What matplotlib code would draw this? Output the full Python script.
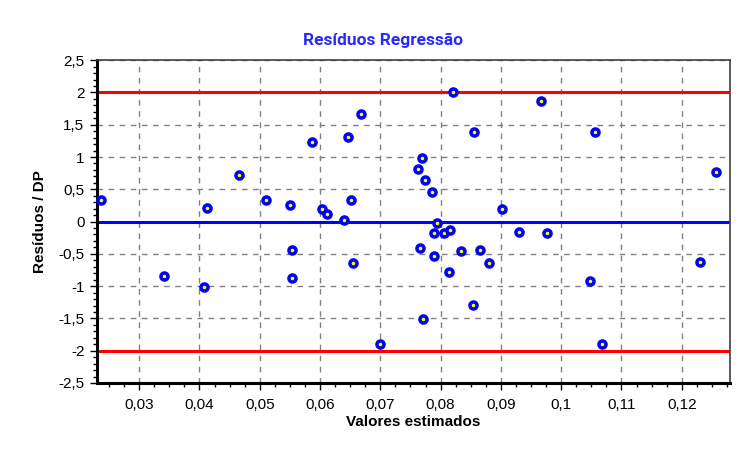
import matplotlib
matplotlib.use('Agg')
import matplotlib.pyplot as plt
from matplotlib.ticker import MultipleLocator, FuncFormatter

# data
valores = [0.0237, 0.0342, 0.0407, 0.0412, 0.0466, 0.0510, 0.0550, 0.0554, 0.0554,
           0.0586, 0.0603, 0.0612, 0.0639, 0.0646, 0.0651, 0.0654, 0.0668, 0.0700,
           0.0762, 0.0765, 0.0769, 0.0771, 0.0774, 0.0786, 0.0789, 0.0789, 0.0794,
           0.0806, 0.0814, 0.0816, 0.0821, 0.0833, 0.0853, 0.0856, 0.0865, 0.0880,
           0.0901, 0.0930, 0.0967, 0.0977, 0.1048, 0.1056, 0.1068, 0.1230, 0.1256]
residuos = [0.33, -0.85, -1.01, 0.21, 0.72, 0.33, 0.26, -0.44, -0.87,
            1.23, 0.19, 0.12, 0.02, 1.31, 0.33, -0.64, 1.67, -1.89,
            0.81, -0.41, 0.98, -1.51, 0.65, 0.46, -0.17, -0.53, -0.02,
            -0.17, -0.78, -0.13, 2.01, -0.46, -1.29, 1.39, -0.44, -0.64,
            0.19, -0.16, 1.87, -0.18, -0.92, 1.39, -1.89, -0.62, 0.77]
limites = [2, -2]

plt.rcParams['font.family'] = ['Liberation Sans', 'DejaVu Sans']

fig = plt.figure(figsize=(7.4, 4.49), dpi=100)
ax = fig.add_axes([0.131, 0.147, 0.8555, 0.719])

ax.set_xlim(0.0230, 0.1280)
ax.set_ylim(-2.5, 2.5)

ax.grid(True, which='major', color='#808080', ls=(0, (4, 4)), lw=1)
ax.set_axisbelow(True)

for lim in limites:
    ax.axhline(lim, color='#ff0000', lw=2.2, zorder=2)
ax.axhline(0, color='#0000ff', lw=2.2, zorder=2)

ax.scatter(valores, residuos, s=26, marker='o', facecolor='#ffff00',
           edgecolor='#0000ff', linewidth=2.5, zorder=3, clip_on=False)

ax.xaxis.set_major_locator(MultipleLocator(0.01))
ax.xaxis.set_minor_locator(MultipleLocator(0.0025))
ax.yaxis.set_major_locator(MultipleLocator(0.5))
ax.yaxis.set_minor_locator(MultipleLocator(0.1))

def virgula(v, pos):
    s = ('%.2f' % v).rstrip('0').rstrip('.')
    if s == '-0':
        s = '0'
    return s.replace('.', ',')

ax.xaxis.set_major_formatter(FuncFormatter(virgula))
ax.yaxis.set_major_formatter(FuncFormatter(virgula))

ax.tick_params(which='major', length=5, width=1, labelsize=11, colors='black', pad=6)
ax.tick_params(axis='y', which='major', pad=4)
ax.tick_params(which='minor', length=3, width=1)

for s in ['left', 'bottom']:
    ax.spines[s].set_linewidth(2.2)
    ax.spines[s].set_color('black')
for s in ['top', 'right']:
    ax.spines[s].set_linewidth(1.2)
    ax.spines[s].set_color('#404040')

fig.text(0.518, 0.911, 'Resíduos Regressão', color='#2a2aff', fontsize=12.5,
         fontweight='bold', ha='center', va='center', family=['Roboto', 'DejaVu Sans'])
ax.set_xlabel('Valores estimados', fontsize=11, fontweight='bold', labelpad=2)
ax.set_ylabel('Resíduos / DP', fontsize=11, fontweight='bold', labelpad=8)

fig.savefig('out.png', dpi=100)
